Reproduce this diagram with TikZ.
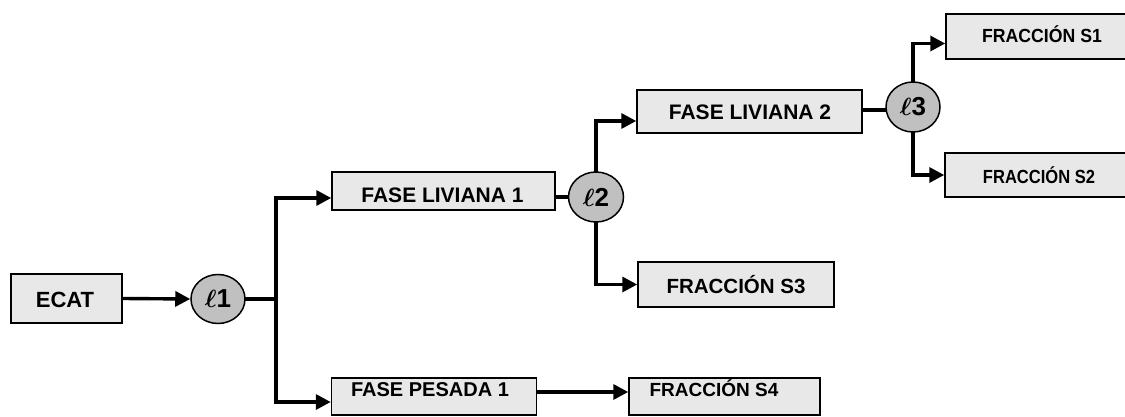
\documentclass[tikz,border=0pt]{standalone}
\usepackage{fontspec}
\setmainfont{Liberation Sans}
\usetikzlibrary{arrows.meta,shapes.geometric,backgrounds}
\definecolor{boxgray}{RGB}{232,232,232}
\definecolor{circgray}{RGB}{192,192,192}
\tikzset{
  box/.style={draw=black, line width=1.5pt, fill=boxgray, rectangle, inner sep=0pt},
  junc/.style={draw=black, line width=1.5pt, fill=circgray, ellipse, inner sep=0pt,
    font=\fontsize{26}{26}\selectfont\boldmath},
  conn/.style={line width=3.4pt},
  arr/.style={conn, -{Triangle[length=15pt,width=15pt]}},
  lbl/.style={anchor=base, inner sep=0pt},
}
\begin{document}
\begin{tikzpicture}[x=1pt,y=-1pt]
\useasboundingbox (0,0) rectangle (1125,417);
% boxes
\node[box, minimum width=111pt, minimum height=49pt] (ecat) at (66.5,298.5) {};
\node[box, minimum width=223pt, minimum height=38pt] (fl1) at (443.5,191) {};
\node[box, minimum width=225pt, minimum height=43pt] (fl2) at (749.5,111.5) {};
\node[box, minimum width=192pt, minimum height=45pt] (s1) at (1042,36.5) {};
\node[box, minimum width=188pt, minimum height=44pt] (s2) at (1039,175) {};
\node[box, minimum width=196pt, minimum height=45pt] (s3) at (736,284.5) {};
\node[box, minimum width=205pt, minimum height=37pt] (fp1) at (434,396.5) {};
\node[box, minimum width=191pt, minimum height=37pt] (s4) at (724.5,396.5) {};
% junctions
\node[junc, minimum width=54pt, minimum height=49pt] (l1) at (218,299) {$\ell$\textbf{1}};
\node[junc, minimum width=55pt, minimum height=50pt] (l2) at (596,197) {$\ell$\textbf{2}};
\node[junc, minimum width=54pt, minimum height=50pt] (l3) at (913,107) {$\ell$\textbf{3}};
\coordinate (j1) at (276,299);
% texts
\node[lbl, font=\bfseries\fontsize{22}{22}\selectfont] (ecat-t) at (65,307.3) {ECAT};
\node[lbl, font=\bfseries\fontsize{21}{21}\selectfont] (fl1-t) at (442.5,203) {FASE LIVIANA 1};
\node[lbl, font=\bfseries\fontsize{21}{21}\selectfont] (fl2-t) at (750,120) {FASE LIVIANA 2};
\node[lbl, font=\bfseries\fontsize{19}{19}\selectfont] (s1-t) at (1042,43) {\scalebox{0.93}[1]{FRACCIÓN S1}};
\node[lbl, font=\bfseries\fontsize{19}{19}\selectfont] (s2-t) at (1039,183) {\scalebox{0.87}[1]{FRACCIÓN S2}};
\node[lbl, font=\bfseries\fontsize{20.5}{20.5}\selectfont] (s3-t) at (736,293) {FRACCIÓN S3};
\node[lbl, font=\bfseries\fontsize{20}{20}\selectfont] (fp1-t) at (430,396.5) {FASE PESADA 1};
\node[lbl, font=\bfseries\fontsize{19}{19}\selectfont] (s4-t) at (714,396.6) {FRACCIÓN S4};
% connectors
\begin{scope}[on background layer]
\draw[arr] (ecat.east) -- (l1.west);
\draw[conn] (l1.center) -- (j1);
\draw[arr] (j1) |- ([yshift=-7pt]fl1.west);
\draw[arr] (j1) |- ([yshift=-5.5pt]fp1.west);
\draw[conn] (fl1.east |- l2.center) -- (l2.center);
\draw[arr] (l2.center) |- ([yshift=-9.5pt]fl2.west);
\draw[arr] (l2.center) |- (s3.west);
\draw[conn] ([yshift=1.5pt]fl2.east) -- ([yshift=1.5pt]fl2.east -| l3.center);
\draw[arr] (l3.center) |- ([yshift=-7pt]s1.west);
\draw[arr] (l3.center) |- (s2.west);
\draw[arr] ([yshift=4.5pt]fp1.east) -- ([yshift=4.5pt]fp1.east -| s4.west);
\end{scope}
\end{tikzpicture}
\end{document}
